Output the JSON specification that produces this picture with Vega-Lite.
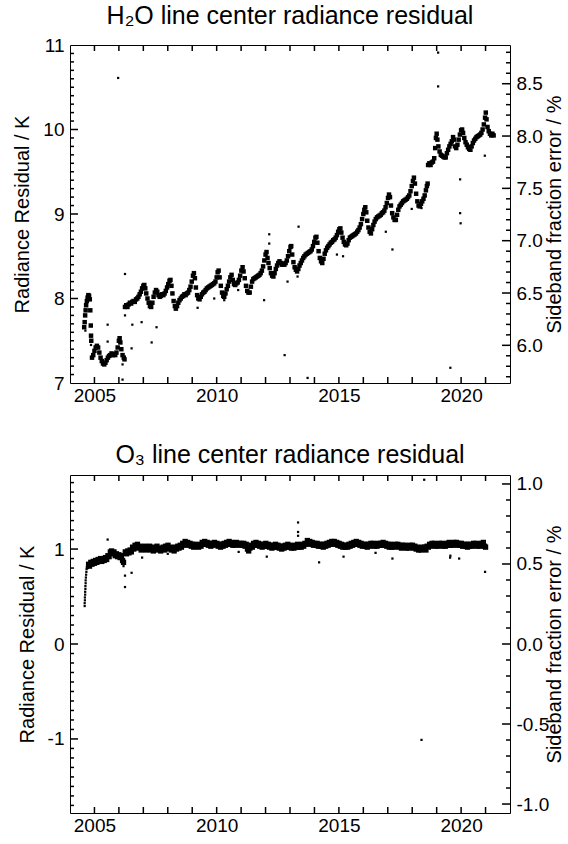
{
"$schema":"https://vega.github.io/schema/vega-lite/v6.json",
"background":"white",
"padding":{"left":12,"top":3,"right":0,"bottom":0},
"spacing":36,
"config":{"view":{"stroke":"black","strokeWidth":1},"font":"Liberation Sans",
"axis":{"labelFont":"Liberation Sans","titleFont":"Liberation Sans","labelFontSize":19,"titleFontSize":20,"titleFontWeight":"normal","labelColor":"black","titleColor":"black","grid":false,"domain":false,"ticks":false,"labelFlush":false,"labelOverlap":false},
"title":{"font":"Liberation Sans","fontSize":25,"fontWeight":"normal","color":"black","anchor":"middle","offset":7}},
"datasets":{
"yb_h2o":[{"v":2005,"e":7},{"v":2006,"e":7},{"v":2007,"e":7},{"v":2008,"e":7},{"v":2009,"e":7},{"v":2010,"e":7},{"v":2011,"e":7},{"v":2012,"e":7},{"v":2013,"e":7},{"v":2014,"e":7},{"v":2015,"e":7},{"v":2016,"e":7},{"v":2017,"e":7},{"v":2018,"e":7},{"v":2019,"e":7},{"v":2020,"e":7},{"v":2021,"e":7}],
"yt_h2o":[{"v":2005,"e":11},{"v":2006,"e":11},{"v":2007,"e":11},{"v":2008,"e":11},{"v":2009,"e":11},{"v":2010,"e":11},{"v":2011,"e":11},{"v":2012,"e":11},{"v":2013,"e":11},{"v":2014,"e":11},{"v":2015,"e":11},{"v":2016,"e":11},{"v":2017,"e":11},{"v":2018,"e":11},{"v":2019,"e":11},{"v":2020,"e":11},{"v":2021,"e":11}],
"yb_o3":[{"v":2005,"e":-1.78},{"v":2006,"e":-1.78},{"v":2007,"e":-1.78},{"v":2008,"e":-1.78},{"v":2009,"e":-1.78},{"v":2010,"e":-1.78},{"v":2011,"e":-1.78},{"v":2012,"e":-1.78},{"v":2013,"e":-1.78},{"v":2014,"e":-1.78},{"v":2015,"e":-1.78},{"v":2016,"e":-1.78},{"v":2017,"e":-1.78},{"v":2018,"e":-1.78},{"v":2019,"e":-1.78},{"v":2020,"e":-1.78},{"v":2021,"e":-1.78}],
"yt_o3":[{"v":2005,"e":1.78},{"v":2006,"e":1.78},{"v":2007,"e":1.78},{"v":2008,"e":1.78},{"v":2009,"e":1.78},{"v":2010,"e":1.78},{"v":2011,"e":1.78},{"v":2012,"e":1.78},{"v":2013,"e":1.78},{"v":2014,"e":1.78},{"v":2015,"e":1.78},{"v":2016,"e":1.78},{"v":2017,"e":1.78},{"v":2018,"e":1.78},{"v":2019,"e":1.78},{"v":2020,"e":1.78},{"v":2021,"e":1.78}],
"h2o_lmaj":[{"v":8,"e":2004},{"v":9,"e":2004},{"v":10,"e":2004}],
"h2o_lmin":[{"v":7.1,"e":2004},{"v":7.2,"e":2004},{"v":7.3,"e":2004},{"v":7.4,"e":2004},{"v":7.5,"e":2004},{"v":7.6,"e":2004},{"v":7.7,"e":2004},{"v":7.8,"e":2004},{"v":7.9,"e":2004},{"v":8.1,"e":2004},{"v":8.2,"e":2004},{"v":8.3,"e":2004},{"v":8.4,"e":2004},{"v":8.5,"e":2004},{"v":8.6,"e":2004},{"v":8.7,"e":2004},{"v":8.8,"e":2004},{"v":8.9,"e":2004},{"v":9.1,"e":2004},{"v":9.2,"e":2004},{"v":9.3,"e":2004},{"v":9.4,"e":2004},{"v":9.5,"e":2004},{"v":9.6,"e":2004},{"v":9.7,"e":2004},{"v":9.8,"e":2004},{"v":9.9,"e":2004},{"v":10.1,"e":2004},{"v":10.2,"e":2004},{"v":10.3,"e":2004},{"v":10.4,"e":2004},{"v":10.5,"e":2004},{"v":10.6,"e":2004},{"v":10.7,"e":2004},{"v":10.8,"e":2004},{"v":10.9,"e":2004}],
"h2o_rmaj":[{"v":6.0,"e":2022},{"v":6.5,"e":2022},{"v":7.0,"e":2022},{"v":7.5,"e":2022},{"v":8.0,"e":2022},{"v":8.5,"e":2022}],
"h2o_rmin":[{"v":5.7,"e":2022},{"v":5.8,"e":2022},{"v":5.9,"e":2022},{"v":6.1,"e":2022},{"v":6.2,"e":2022},{"v":6.3,"e":2022},{"v":6.4,"e":2022},{"v":6.6,"e":2022},{"v":6.7,"e":2022},{"v":6.8,"e":2022},{"v":6.9,"e":2022},{"v":7.1,"e":2022},{"v":7.2,"e":2022},{"v":7.3,"e":2022},{"v":7.4,"e":2022},{"v":7.6,"e":2022},{"v":7.7,"e":2022},{"v":7.8,"e":2022},{"v":7.9,"e":2022},{"v":8.1,"e":2022},{"v":8.2,"e":2022},{"v":8.3,"e":2022},{"v":8.4,"e":2022},{"v":8.6,"e":2022},{"v":8.7,"e":2022},{"v":8.8,"e":2022}],
"o3_lmaj":[{"v":-1,"e":2004},{"v":0,"e":2004},{"v":1,"e":2004}],
"o3_lmin":[{"v":-1.7,"e":2004},{"v":-1.6,"e":2004},{"v":-1.5,"e":2004},{"v":-1.4,"e":2004},{"v":-1.3,"e":2004},{"v":-1.2,"e":2004},{"v":-1.1,"e":2004},{"v":-0.9,"e":2004},{"v":-0.8,"e":2004},{"v":-0.7,"e":2004},{"v":-0.6,"e":2004},{"v":-0.5,"e":2004},{"v":-0.4,"e":2004},{"v":-0.3,"e":2004},{"v":-0.2,"e":2004},{"v":-0.1,"e":2004},{"v":0.1,"e":2004},{"v":0.2,"e":2004},{"v":0.3,"e":2004},{"v":0.4,"e":2004},{"v":0.5,"e":2004},{"v":0.6,"e":2004},{"v":0.7,"e":2004},{"v":0.8,"e":2004},{"v":0.9,"e":2004},{"v":1.1,"e":2004},{"v":1.2,"e":2004},{"v":1.3,"e":2004},{"v":1.4,"e":2004},{"v":1.5,"e":2004},{"v":1.6,"e":2004},{"v":1.7,"e":2004}],
"o3_rmaj":[{"v":-1.0,"e":2022},{"v":-0.5,"e":2022},{"v":0.0,"e":2022},{"v":0.5,"e":2022},{"v":1.0,"e":2022}],
"o3_rmin":[{"v":-0.9,"e":2022},{"v":-0.8,"e":2022},{"v":-0.7,"e":2022},{"v":-0.6,"e":2022},{"v":-0.4,"e":2022},{"v":-0.3,"e":2022},{"v":-0.2,"e":2022},{"v":-0.1,"e":2022},{"v":0.1,"e":2022},{"v":0.2,"e":2022},{"v":0.3,"e":2022},{"v":0.4,"e":2022},{"v":0.6,"e":2022},{"v":0.7,"e":2022},{"v":0.8,"e":2022},{"v":0.9,"e":2022}],
"h2o":[
{"t":2004.58,"k":7.66},{"t":2004.60,"k":7.72},{"t":2004.62,"k":7.80},{"t":2004.64,"k":7.86},{"t":2004.66,"k":7.92},{"t":2004.69,"k":7.97},{"t":2004.72,"k":8.01},{"t":2004.75,"k":8.04},{"t":2004.78,"k":8.03},{"t":2004.81,"k":7.99},{"t":2004.83,"k":7.86},{"t":2004.85,"k":7.68},{"t":2004.86,"k":7.56},{"t":2004.87,"k":7.50},
{"t":2004.90,"k":7.30},{"t":2004.95,"k":7.33},{"t":2005.00,"k":7.38},{"t":2005.05,"k":7.42},{"t":2005.10,"k":7.44},{"t":2005.15,"k":7.42},{"t":2005.20,"k":7.36},{"t":2005.25,"k":7.30},{"t":2005.30,"k":7.26},{"t":2005.35,"k":7.23},{"t":2005.40,"k":7.22},{"t":2005.45,"k":7.24},{"t":2005.50,"k":7.27},{"t":2005.55,"k":7.30},{"t":2005.60,"k":7.32},{"t":2005.65,"k":7.33},{"t":2005.70,"k":7.35},{"t":2005.75,"k":7.33},{"t":2005.80,"k":7.34},{"t":2005.85,"k":7.33},{"t":2005.90,"k":7.36},{"t":2005.95,"k":7.42},{"t":2006.00,"k":7.50},{"t":2006.03,"k":7.53},{"t":2006.06,"k":7.48},{"t":2006.10,"k":7.40},{"t":2006.15,"k":7.33},{"t":2006.20,"k":7.30},{"t":2006.23,"k":7.28},
{"t":2006.25,"k":7.90},{"t":2006.30,"k":7.92},{"t":2006.35,"k":7.90},{"t":2006.40,"k":7.93},{"t":2006.45,"k":7.95},{"t":2006.50,"k":7.94},{"t":2006.55,"k":7.96},{"t":2006.60,"k":7.97},{"t":2006.65,"k":7.96},{"t":2006.70,"k":7.99},{"t":2006.75,"k":8.00},{"t":2006.80,"k":8.02},{"t":2006.85,"k":8.05},{"t":2006.90,"k":8.08},{"t":2006.95,"k":8.12},{"t":2007.00,"k":8.15},{"t":2007.04,"k":8.16},{"t":2007.08,"k":8.12},{"t":2007.12,"k":8.06},{"t":2007.17,"k":8.00},{"t":2007.22,"k":7.95},{"t":2007.27,"k":7.91},{"t":2007.32,"k":7.90},{"t":2007.37,"k":7.95},{"t":2007.42,"k":8.02},{"t":2007.47,"k":8.07},{"t":2007.52,"k":8.10},{"t":2007.57,"k":8.08},{"t":2007.62,"k":8.04},{"t":2007.67,"k":8.02},{"t":2007.72,"k":8.03},{"t":2007.77,"k":8.05},{"t":2007.82,"k":8.04},{"t":2007.87,"k":8.06},{"t":2007.92,"k":8.09},{"t":2007.97,"k":8.13},{"t":2008.02,"k":8.17},{"t":2008.07,"k":8.21},{"t":2008.11,"k":8.22},{"t":2008.15,"k":8.15},{"t":2008.19,"k":8.06},{"t":2008.24,"k":7.97},{"t":2008.29,"k":7.91},{"t":2008.33,"k":7.88},{"t":2008.38,"k":7.91},{"t":2008.43,"k":7.95},{"t":2008.48,"k":7.98},{"t":2008.53,"k":8.00},{"t":2008.58,"k":8.02},{"t":2008.63,"k":8.03},{"t":2008.68,"k":8.05},{"t":2008.73,"k":8.04},{"t":2008.78,"k":8.06},{"t":2008.83,"k":8.07},{"t":2008.88,"k":8.10},{"t":2008.93,"k":8.14},{"t":2008.98,"k":8.20},{"t":2009.03,"k":8.27},{"t":2009.07,"k":8.30},{"t":2009.11,"k":8.24},{"t":2009.15,"k":8.13},{"t":2009.20,"k":8.04},{"t":2009.25,"k":8.00},{"t":2009.30,"k":7.99},{"t":2009.35,"k":8.02},{"t":2009.40,"k":8.05},{"t":2009.45,"k":8.07},{"t":2009.50,"k":8.08},{"t":2009.55,"k":8.10},{"t":2009.60,"k":8.12},{"t":2009.65,"k":8.13},{"t":2009.70,"k":8.14},{"t":2009.75,"k":8.15},{"t":2009.80,"k":8.16},{"t":2009.85,"k":8.17},{"t":2009.90,"k":8.18},{"t":2009.95,"k":8.20},{"t":2010.00,"k":8.25},{"t":2010.04,"k":8.31},{"t":2010.08,"k":8.33},{"t":2010.12,"k":8.25},{"t":2010.17,"k":8.15},{"t":2010.22,"k":8.07},{"t":2010.27,"k":8.03},{"t":2010.31,"k":8.02},{"t":2010.36,"k":8.06},{"t":2010.41,"k":8.11},{"t":2010.46,"k":8.15},{"t":2010.51,"k":8.20},{"t":2010.56,"k":8.25},{"t":2010.61,"k":8.28},{"t":2010.66,"k":8.22},{"t":2010.71,"k":8.17},{"t":2010.76,"k":8.16},{"t":2010.81,"k":8.18},{"t":2010.86,"k":8.19},{"t":2010.91,"k":8.22},{"t":2010.96,"k":8.27},{"t":2011.01,"k":8.33},{"t":2011.06,"k":8.37},{"t":2011.10,"k":8.32},{"t":2011.15,"k":8.24},{"t":2011.20,"k":8.15},{"t":2011.25,"k":8.09},{"t":2011.30,"k":8.07},{"t":2011.35,"k":8.07},{"t":2011.40,"k":8.14},{"t":2011.45,"k":8.20},{"t":2011.50,"k":8.23},{"t":2011.55,"k":8.24},{"t":2011.60,"k":8.25},{"t":2011.65,"k":8.26},{"t":2011.70,"k":8.27},{"t":2011.75,"k":8.28},{"t":2011.80,"k":8.30},{"t":2011.85,"k":8.33},{"t":2011.90,"k":8.38},{"t":2011.95,"k":8.45},{"t":2012.00,"k":8.52},{"t":2012.04,"k":8.55},{"t":2012.08,"k":8.48},{"t":2012.12,"k":8.42},{"t":2012.17,"k":8.36},{"t":2012.22,"k":8.30},{"t":2012.27,"k":8.27},{"t":2012.32,"k":8.26},{"t":2012.37,"k":8.30},{"t":2012.42,"k":8.35},{"t":2012.47,"k":8.39},{"t":2012.52,"k":8.42},{"t":2012.57,"k":8.44},{"t":2012.62,"k":8.42},{"t":2012.67,"k":8.40},{"t":2012.72,"k":8.41},{"t":2012.77,"k":8.40},{"t":2012.82,"k":8.42},{"t":2012.87,"k":8.45},{"t":2012.92,"k":8.50},{"t":2012.97,"k":8.56},{"t":2013.02,"k":8.61},{"t":2013.05,"k":8.62},{"t":2013.09,"k":8.52},{"t":2013.14,"k":8.43},{"t":2013.19,"k":8.37},{"t":2013.24,"k":8.34},{"t":2013.29,"k":8.32},{"t":2013.34,"k":8.35},{"t":2013.39,"k":8.39},{"t":2013.44,"k":8.42},{"t":2013.49,"k":8.45},{"t":2013.54,"k":8.48},{"t":2013.59,"k":8.50},{"t":2013.64,"k":8.52},{"t":2013.69,"k":8.53},{"t":2013.74,"k":8.54},{"t":2013.79,"k":8.55},{"t":2013.84,"k":8.56},{"t":2013.89,"k":8.58},{"t":2013.94,"k":8.62},{"t":2013.99,"k":8.67},{"t":2014.04,"k":8.72},{"t":2014.08,"k":8.73},{"t":2014.12,"k":8.66},{"t":2014.17,"k":8.56},{"t":2014.22,"k":8.48},{"t":2014.27,"k":8.44},{"t":2014.32,"k":8.42},{"t":2014.37,"k":8.47},{"t":2014.42,"k":8.53},{"t":2014.47,"k":8.57},{"t":2014.52,"k":8.60},{"t":2014.57,"k":8.62},{"t":2014.62,"k":8.64},{"t":2014.67,"k":8.66},{"t":2014.72,"k":8.67},{"t":2014.77,"k":8.69},{"t":2014.82,"k":8.70},{"t":2014.87,"k":8.72},{"t":2014.92,"k":8.75},{"t":2014.97,"k":8.79},{"t":2015.02,"k":8.82},{"t":2015.06,"k":8.83},{"t":2015.10,"k":8.78},{"t":2015.15,"k":8.72},{"t":2015.20,"k":8.67},{"t":2015.25,"k":8.64},{"t":2015.30,"k":8.63},{"t":2015.35,"k":8.65},{"t":2015.40,"k":8.69},{"t":2015.45,"k":8.72},{"t":2015.50,"k":8.73},{"t":2015.55,"k":8.74},{"t":2015.60,"k":8.75},{"t":2015.65,"k":8.76},{"t":2015.70,"k":8.77},{"t":2015.75,"k":8.79},{"t":2015.80,"k":8.81},{"t":2015.85,"k":8.84},{"t":2015.90,"k":8.88},{"t":2015.95,"k":8.94},{"t":2016.00,"k":9.00},{"t":2016.04,"k":9.05},{"t":2016.08,"k":9.08},{"t":2016.12,"k":9.02},{"t":2016.16,"k":8.92},{"t":2016.21,"k":8.84},{"t":2016.26,"k":8.79},{"t":2016.31,"k":8.77},{"t":2016.36,"k":8.82},{"t":2016.41,"k":8.87},{"t":2016.46,"k":8.91},{"t":2016.51,"k":8.94},{"t":2016.56,"k":8.96},{"t":2016.61,"k":8.97},{"t":2016.66,"k":8.98},{"t":2016.71,"k":8.99},{"t":2016.76,"k":9.01},{"t":2016.81,"k":9.02},{"t":2016.86,"k":9.04},{"t":2016.91,"k":9.08},{"t":2016.96,"k":9.13},{"t":2017.01,"k":9.19},{"t":2017.05,"k":9.23},{"t":2017.09,"k":9.20},{"t":2017.13,"k":9.10},{"t":2017.18,"k":9.01},{"t":2017.23,"k":8.96},{"t":2017.28,"k":8.93},{"t":2017.33,"k":8.93},{"t":2017.38,"k":8.99},{"t":2017.43,"k":9.05},{"t":2017.48,"k":9.09},{"t":2017.53,"k":9.11},{"t":2017.58,"k":9.13},{"t":2017.63,"k":9.15},{"t":2017.68,"k":9.16},{"t":2017.73,"k":9.17},{"t":2017.78,"k":9.18},{"t":2017.83,"k":9.20},{"t":2017.88,"k":9.22},{"t":2017.93,"k":9.27},{"t":2017.98,"k":9.33},{"t":2018.03,"k":9.39},{"t":2018.07,"k":9.43},{"t":2018.11,"k":9.36},{"t":2018.16,"k":9.24},{"t":2018.21,"k":9.15},{"t":2018.26,"k":9.10},{"t":2018.31,"k":9.09},{"t":2018.36,"k":9.12},{"t":2018.41,"k":9.15},{"t":2018.46,"k":9.18},{"t":2018.51,"k":9.22},{"t":2018.56,"k":9.28},{"t":2018.60,"k":9.33},{"t":2018.63,"k":9.36},
{"t":2018.65,"k":9.58},{"t":2018.70,"k":9.60},{"t":2018.75,"k":9.58},{"t":2018.80,"k":9.61},{"t":2018.85,"k":9.62},{"t":2018.90,"k":9.66},{"t":2018.94,"k":9.78},{"t":2018.97,"k":9.90},{"t":2019.00,"k":9.95},{"t":2019.03,"k":9.88},{"t":2019.07,"k":9.80},{"t":2019.12,"k":9.74},{"t":2019.17,"k":9.70},{"t":2019.22,"k":9.69},{"t":2019.27,"k":9.68},{"t":2019.32,"k":9.67},{"t":2019.37,"k":9.67},{"t":2019.42,"k":9.72},{"t":2019.47,"k":9.76},{"t":2019.52,"k":9.80},{"t":2019.57,"k":9.83},{"t":2019.62,"k":9.86},{"t":2019.67,"k":9.91},{"t":2019.71,"k":9.88},{"t":2019.75,"k":9.80},{"t":2019.80,"k":9.78},{"t":2019.85,"k":9.82},{"t":2019.90,"k":9.88},{"t":2019.95,"k":9.94},{"t":2020.00,"k":9.99},{"t":2020.04,"k":10.00},{"t":2020.08,"k":9.96},{"t":2020.13,"k":9.90},{"t":2020.18,"k":9.85},{"t":2020.23,"k":9.82},{"t":2020.28,"k":9.79},{"t":2020.33,"k":9.77},{"t":2020.38,"k":9.76},{"t":2020.43,"k":9.80},{"t":2020.48,"k":9.84},{"t":2020.53,"k":9.87},{"t":2020.58,"k":9.89},{"t":2020.63,"k":9.91},{"t":2020.68,"k":9.92},{"t":2020.73,"k":9.93},{"t":2020.78,"k":9.94},{"t":2020.83,"k":9.96},{"t":2020.88,"k":10.00},{"t":2020.93,"k":10.06},{"t":2020.98,"k":10.14},{"t":2021.01,"k":10.20},{"t":2021.04,"k":10.12},{"t":2021.08,"k":10.03},{"t":2021.13,"k":9.98},{"t":2021.18,"k":9.95},{"t":2021.23,"k":9.93},{"t":2021.28,"k":9.95},{"t":2021.33,"k":9.93}
],
"h2o_out":[
{"t":2005.97,"k":10.61},{"t":2006.25,"k":8.29},{"t":2006.25,"k":7.80},{"t":2006.55,"k":7.69},{"t":2006.93,"k":7.72},{"t":2007.54,"k":7.66},{"t":2007.34,"k":7.48},{"t":2006.52,"k":7.41},{"t":2005.54,"k":7.69},{"t":2005.54,"k":7.49},{"t":2006.15,"k":7.22},{"t":2006.15,"k":7.04},{"t":2009.22,"k":7.89},{"t":2009.90,"k":8.00},{"t":2010.31,"k":7.98},{"t":2010.88,"k":8.10},{"t":2011.94,"k":7.98},{"t":2012.15,"k":8.76},{"t":2012.15,"k":8.65},{"t":2012.90,"k":8.20},{"t":2013.31,"k":8.26},{"t":2013.35,"k":8.85},{"t":2012.78,"k":7.33},{"t":2013.72,"k":7.06},{"t":2014.92,"k":8.52},{"t":2015.17,"k":8.50},{"t":2016.92,"k":8.79},{"t":2017.19,"k":8.58},{"t":2017.98,"k":9.06},{"t":2018.38,"k":9.07},{"t":2019.06,"k":10.91},{"t":2019.06,"k":10.51},{"t":2019.96,"k":9.41},{"t":2019.96,"k":9.01},{"t":2019.98,"k":8.89},{"t":2019.56,"k":7.18},{"t":2020.97,"k":9.69},{"t":2004.63,"k":7.62},{"t":2004.86,"k":7.45}
],
"o3":[
{"t":2004.76,"k":0.84},
{"t":2004.80,"k":0.82},{"t":2004.85,"k":0.86},{"t":2004.90,"k":0.84},{"t":2004.95,"k":0.87},{"t":2005.00,"k":0.85},{"t":2005.05,"k":0.88},{"t":2005.10,"k":0.86},{"t":2005.15,"k":0.89},{"t":2005.20,"k":0.87},{"t":2005.25,"k":0.90},{"t":2005.30,"k":0.87},{"t":2005.35,"k":0.89},{"t":2005.40,"k":0.88},{"t":2005.45,"k":0.91},{"t":2005.50,"k":0.89},{"t":2005.55,"k":0.93},{"t":2005.60,"k":0.92},{"t":2005.65,"k":0.97},{"t":2005.70,"k":0.98},{"t":2005.75,"k":0.95},{"t":2005.80,"k":0.97},{"t":2005.85,"k":0.93},{"t":2005.90,"k":0.95},{"t":2005.95,"k":0.92},{"t":2006.00,"k":0.94},{"t":2006.05,"k":0.91},{"t":2006.10,"k":0.93},{"t":2006.15,"k":0.88},{"t":2006.19,"k":0.86},
{"t":2006.26,"k":0.97},{"t":2006.31,"k":0.95},{"t":2006.36,"k":0.98},{"t":2006.41,"k":0.96},{"t":2006.46,"k":0.99},{"t":2006.51,"k":0.97},{"t":2006.56,"k":1.02},{"t":2006.61,"k":1.00},{"t":2006.66,"k":1.04},{"t":2006.71,"k":1.02},{"t":2006.76,"k":1.05},{"t":2006.81,"k":1.01},{"t":2006.86,"k":1.03},{"t":2006.91,"k":0.99},{"t":2006.96,"k":1.02},{"t":2007.01,"k":1.00},{"t":2007.06,"k":1.03},{"t":2007.11,"k":0.99},{"t":2007.16,"k":1.02},{"t":2007.21,"k":1.00},{"t":2007.26,"k":1.03},{"t":2007.31,"k":0.99},{"t":2007.36,"k":1.01},{"t":2007.41,"k":0.98},{"t":2007.46,"k":1.02},{"t":2007.51,"k":1.00},{"t":2007.56,"k":1.03},{"t":2007.61,"k":0.99},{"t":2007.66,"k":1.01},{"t":2007.71,"k":0.98},{"t":2007.76,"k":1.00},{"t":2007.81,"k":1.02},{"t":2007.86,"k":0.99},{"t":2007.91,"k":1.03},{"t":2007.96,"k":1.01},{"t":2008.01,"k":1.04},{"t":2008.06,"k":1.00},{"t":2008.11,"k":1.02},{"t":2008.16,"k":0.99},{"t":2008.21,"k":1.01},{"t":2008.26,"k":0.98},{"t":2008.31,"k":1.02},{"t":2008.36,"k":1.00},{"t":2008.41,"k":1.03},{"t":2008.46,"k":1.01},{"t":2008.51,"k":1.04},{"t":2008.56,"k":1.02},{"t":2008.61,"k":1.06},{"t":2008.66,"k":1.04},{"t":2008.71,"k":1.08},{"t":2008.76,"k":1.05},{"t":2008.81,"k":1.07},{"t":2008.86,"k":1.04},{"t":2008.91,"k":1.06},{"t":2008.96,"k":1.03},{"t":2009.01,"k":1.05},{"t":2009.06,"k":1.02},{"t":2009.11,"k":1.05},{"t":2009.16,"k":1.03},{"t":2009.21,"k":1.04},{"t":2009.26,"k":1.02},{"t":2009.31,"k":1.05},{"t":2009.36,"k":1.03},{"t":2009.41,"k":1.07},{"t":2009.46,"k":1.05},{"t":2009.51,"k":1.08},{"t":2009.56,"k":1.05},{"t":2009.61,"k":1.07},{"t":2009.66,"k":1.04},{"t":2009.71,"k":1.06},{"t":2009.76,"k":1.03},{"t":2009.81,"k":1.06},{"t":2009.86,"k":1.04},{"t":2009.91,"k":1.07},{"t":2009.96,"k":1.05},{"t":2010.01,"k":1.06},{"t":2010.06,"k":1.03},{"t":2010.11,"k":1.05},{"t":2010.16,"k":1.02},{"t":2010.21,"k":1.05},{"t":2010.26,"k":1.03},{"t":2010.31,"k":1.06},{"t":2010.36,"k":1.04},{"t":2010.41,"k":1.07},{"t":2010.46,"k":1.05},{"t":2010.51,"k":1.08},{"t":2010.56,"k":1.05},{"t":2010.61,"k":1.07},{"t":2010.66,"k":1.04},{"t":2010.71,"k":1.06},{"t":2010.76,"k":1.04},{"t":2010.81,"k":1.07},{"t":2010.86,"k":1.05},{"t":2010.91,"k":1.06},{"t":2010.96,"k":1.04},{"t":2011.01,"k":1.06},{"t":2011.06,"k":1.04},{"t":2011.11,"k":1.06},{"t":2011.16,"k":1.03},{"t":2011.21,"k":1.05},{"t":2011.26,"k":1.00},{"t":2011.31,"k":0.98},{"t":2011.36,"k":1.01},{"t":2011.41,"k":1.04},{"t":2011.46,"k":1.02},{"t":2011.51,"k":1.06},{"t":2011.56,"k":1.04},{"t":2011.61,"k":1.07},{"t":2011.66,"k":1.04},{"t":2011.71,"k":1.06},{"t":2011.76,"k":1.03},{"t":2011.81,"k":1.05},{"t":2011.86,"k":1.02},{"t":2011.91,"k":1.05},{"t":2011.96,"k":1.03},{"t":2012.01,"k":1.06},{"t":2012.06,"k":1.03},{"t":2012.11,"k":1.05},{"t":2012.16,"k":1.02},{"t":2012.21,"k":1.04},{"t":2012.26,"k":1.01},{"t":2012.31,"k":1.04},{"t":2012.36,"k":1.02},{"t":2012.41,"k":1.05},{"t":2012.46,"k":1.02},{"t":2012.51,"k":1.04},{"t":2012.56,"k":1.01},{"t":2012.61,"k":1.03},{"t":2012.66,"k":1.00},{"t":2012.71,"k":1.03},{"t":2012.76,"k":1.01},{"t":2012.81,"k":1.04},{"t":2012.86,"k":1.02},{"t":2012.91,"k":1.05},{"t":2012.96,"k":1.02},{"t":2013.01,"k":1.04},{"t":2013.06,"k":1.01},{"t":2013.11,"k":1.03},{"t":2013.16,"k":1.01},{"t":2013.21,"k":1.04},{"t":2013.26,"k":1.02},{"t":2013.31,"k":1.05},{"t":2013.36,"k":1.02},{"t":2013.41,"k":1.04},{"t":2013.46,"k":1.02},{"t":2013.51,"k":1.05},{"t":2013.56,"k":1.03},{"t":2013.61,"k":1.06},{"t":2013.66,"k":1.05},{"t":2013.71,"k":1.09},{"t":2013.76,"k":1.06},{"t":2013.81,"k":1.08},{"t":2013.86,"k":1.05},{"t":2013.91,"k":1.07},{"t":2013.96,"k":1.04},{"t":2014.01,"k":1.06},{"t":2014.06,"k":1.04},{"t":2014.11,"k":1.06},{"t":2014.16,"k":1.03},{"t":2014.21,"k":1.05},{"t":2014.26,"k":1.03},{"t":2014.31,"k":1.05},{"t":2014.36,"k":1.02},{"t":2014.41,"k":1.05},{"t":2014.46,"k":1.03},{"t":2014.51,"k":1.06},{"t":2014.56,"k":1.04},{"t":2014.61,"k":1.07},{"t":2014.66,"k":1.05},{"t":2014.71,"k":1.08},{"t":2014.76,"k":1.06},{"t":2014.81,"k":1.08},{"t":2014.86,"k":1.05},{"t":2014.91,"k":1.07},{"t":2014.96,"k":1.04},{"t":2015.01,"k":1.06},{"t":2015.06,"k":1.03},{"t":2015.11,"k":1.05},{"t":2015.16,"k":1.02},{"t":2015.21,"k":1.04},{"t":2015.26,"k":1.02},{"t":2015.31,"k":1.04},{"t":2015.36,"k":1.02},{"t":2015.41,"k":1.05},{"t":2015.46,"k":1.03},{"t":2015.51,"k":1.06},{"t":2015.56,"k":1.04},{"t":2015.61,"k":1.07},{"t":2015.66,"k":1.05},{"t":2015.71,"k":1.08},{"t":2015.76,"k":1.05},{"t":2015.81,"k":1.07},{"t":2015.86,"k":1.04},{"t":2015.91,"k":1.06},{"t":2015.96,"k":1.03},{"t":2016.01,"k":1.05},{"t":2016.06,"k":1.03},{"t":2016.11,"k":1.05},{"t":2016.16,"k":1.02},{"t":2016.21,"k":1.05},{"t":2016.26,"k":1.03},{"t":2016.31,"k":1.06},{"t":2016.36,"k":1.04},{"t":2016.41,"k":1.06},{"t":2016.46,"k":1.03},{"t":2016.51,"k":1.05},{"t":2016.56,"k":1.03},{"t":2016.61,"k":1.06},{"t":2016.66,"k":1.04},{"t":2016.71,"k":1.06},{"t":2016.76,"k":1.04},{"t":2016.81,"k":1.07},{"t":2016.86,"k":1.04},{"t":2016.91,"k":1.06},{"t":2016.96,"k":1.03},{"t":2017.01,"k":1.05},{"t":2017.06,"k":1.02},{"t":2017.11,"k":1.05},{"t":2017.16,"k":1.02},{"t":2017.21,"k":1.04},{"t":2017.26,"k":1.02},{"t":2017.31,"k":1.05},{"t":2017.36,"k":1.03},{"t":2017.41,"k":1.05},{"t":2017.46,"k":1.02},{"t":2017.51,"k":1.04},{"t":2017.56,"k":1.01},{"t":2017.61,"k":1.04},{"t":2017.66,"k":1.02},{"t":2017.71,"k":1.04},{"t":2017.76,"k":1.01},{"t":2017.81,"k":1.03},{"t":2017.86,"k":1.01},{"t":2017.91,"k":1.04},{"t":2017.96,"k":1.02},{"t":2018.01,"k":1.04},{"t":2018.06,"k":1.01},{"t":2018.11,"k":1.03},{"t":2018.16,"k":1.00},{"t":2018.21,"k":1.02},{"t":2018.26,"k":0.99},{"t":2018.31,"k":1.01},{"t":2018.36,"k":0.99},{"t":2018.41,"k":1.02},{"t":2018.46,"k":1.00},{"t":2018.51,"k":1.02},{"t":2018.56,"k":0.99},{"t":2018.61,"k":1.03},{"t":2018.66,"k":1.02},{"t":2018.71,"k":1.05},{"t":2018.76,"k":1.03},{"t":2018.81,"k":1.06},{"t":2018.86,"k":1.04},{"t":2018.91,"k":1.06},{"t":2018.96,"k":1.03},{"t":2019.01,"k":1.05},{"t":2019.06,"k":1.03},{"t":2019.11,"k":1.06},{"t":2019.16,"k":1.04},{"t":2019.21,"k":1.06},{"t":2019.26,"k":1.03},{"t":2019.31,"k":1.05},{"t":2019.36,"k":1.03},{"t":2019.41,"k":1.06},{"t":2019.46,"k":1.04},{"t":2019.51,"k":1.07},{"t":2019.56,"k":1.04},{"t":2019.61,"k":1.06},{"t":2019.66,"k":1.04},{"t":2019.71,"k":1.07},{"t":2019.76,"k":1.05},{"t":2019.81,"k":1.07},{"t":2019.86,"k":1.04},{"t":2019.91,"k":1.06},{"t":2019.96,"k":1.04},{"t":2020.01,"k":1.06},{"t":2020.06,"k":1.03},{"t":2020.11,"k":1.05},{"t":2020.16,"k":1.03},{"t":2020.21,"k":1.05},{"t":2020.26,"k":1.02},{"t":2020.31,"k":1.05},{"t":2020.36,"k":1.03},{"t":2020.41,"k":1.05},{"t":2020.46,"k":1.03},{"t":2020.51,"k":1.06},{"t":2020.56,"k":1.04},{"t":2020.61,"k":1.06},{"t":2020.66,"k":1.03},{"t":2020.71,"k":1.05},{"t":2020.76,"k":1.03},{"t":2020.81,"k":1.06},{"t":2020.86,"k":1.04},{"t":2020.91,"k":1.07},{"t":2020.96,"k":1.03},{"t":2021.00,"k":1.02}
],
"o3_out":[
{"t":2004.60,"k":0.40},{"t":2004.60,"k":0.43},{"t":2004.61,"k":0.46},{"t":2004.61,"k":0.49},{"t":2004.62,"k":0.52},{"t":2004.62,"k":0.55},{"t":2004.63,"k":0.58},{"t":2004.63,"k":0.61},{"t":2004.64,"k":0.64},{"t":2004.64,"k":0.67},{"t":2004.65,"k":0.70},{"t":2004.66,"k":0.73},{"t":2004.67,"k":0.76},{"t":2004.68,"k":0.79},{"t":2004.69,"k":0.81},{"t":2004.71,"k":0.83},{"t":2004.73,"k":0.80},
{"t":2005.54,"k":1.10},{"t":2006.19,"k":0.82},{"t":2006.25,"k":0.72},{"t":2006.25,"k":0.60},{"t":2006.52,"k":0.75},{"t":2006.95,"k":0.91},{"t":2012.05,"k":0.92},{"t":2013.33,"k":1.28},{"t":2013.33,"k":1.18},{"t":2013.33,"k":1.14},{"t":2014.19,"k":0.86},{"t":2015.19,"k":0.92},{"t":2017.19,"k":0.90},{"t":2018.38,"k":-1.01},{"t":2018.49,"k":1.73},{"t":2019.55,"k":0.91},{"t":2019.56,"k":0.93},{"t":2019.92,"k":0.90},{"t":2020.98,"k":0.76},{"t":2008.00,"k":0.95},{"t":2010.90,"k":0.97},{"t":2016.50,"k":0.96}
]},
"vconcat":[
{"width":440,"height":338,
"title":{"text":"H₂O line center radiance residual"},
"layer":[
{"data":{"name":"h2o"},"mark":{"type":"square","size":20,"color":"black","opacity":1},
"encoding":{
"x":{"field":"t","type":"quantitative","scale":{"domain":[2004,2022],"nice":false,"zero":false},"axis":{"orient":"bottom","values":[2005,2010,2015,2020],"format":"d","labelPadding":3,"title":null}},
"y":{"field":"k","type":"quantitative","scale":{"domain":[7,11],"nice":false,"zero":false},"axis":{"orient":"left","values":[7,8,9,10,11],"format":"d","labelPadding":6,"title":"Radiance Residual / K","titlePadding":10}}}},
{"data":{"name":"h2o_out"},"mark":{"type":"square","size":5,"color":"black","opacity":1},
"encoding":{
"x":{"field":"t","type":"quantitative","scale":{"domain":[2004,2022],"nice":false,"zero":false},"axis":null},
"y":{"field":"k","type":"quantitative","scale":{"domain":[7,11],"nice":false,"zero":false},"axis":null}}},
{"data":{"name":"h2o_lmaj"},"mark":{"type":"point","shape":"M0,-0.19H2V0.19H0Z","size":64,"filled":true,"color":"black","opacity":1,"strokeWidth":0},
"encoding":{
"x":{"field":"e","type":"quantitative","scale":{"domain":[2004,2022],"nice":false,"zero":false},"axis":null},
"y":{"field":"v","type":"quantitative","scale":{"domain":[7,11],"nice":false,"zero":false},"axis":null}}},
{"data":{"name":"h2o_lmin"},"mark":{"type":"point","shape":"M0,-0.375H2V0.375H0Z","size":16,"filled":true,"color":"black","opacity":1,"strokeWidth":0},
"encoding":{
"x":{"field":"e","type":"quantitative","scale":{"domain":[2004,2022],"nice":false,"zero":false},"axis":null},
"y":{"field":"v","type":"quantitative","scale":{"domain":[7,11],"nice":false,"zero":false},"axis":null}}},
{"data":{"name":"h2o_rmaj"},"mark":{"type":"point","shape":"M0,-0.19H-2V0.19H0Z","size":64,"filled":true,"color":"black","opacity":1,"strokeWidth":0},
"encoding":{
"x":{"field":"e","type":"quantitative","scale":{"domain":[2004,2022],"nice":false,"zero":false},"axis":null},
"y":{"field":"v","type":"quantitative","scale":{"domain":[5.64,8.87],"nice":false,"zero":false},"axis":{"orient":"right","values":[6.0,6.5,7.0,7.5,8.0,8.5],"format":".1f","labelPadding":6,"title":"Sideband fraction error / %","titleAngle":270,"titleX":44,"titleY":169,"titleAlign":"center","titleBaseline":"middle"}}}},
{"data":{"name":"h2o_rmin"},"mark":{"type":"point","shape":"M0,-0.375H-2V0.375H0Z","size":16,"filled":true,"color":"black","opacity":1,"strokeWidth":0},
"encoding":{
"x":{"field":"e","type":"quantitative","scale":{"domain":[2004,2022],"nice":false,"zero":false},"axis":null},
"y":{"field":"v","type":"quantitative","scale":{"domain":[5.64,8.87],"nice":false,"zero":false},"axis":null}}},
{"data":{"name":"yb_h2o"},"mark":{"type":"point","shape":"M-0.25,0V-2H0.25V0Z","size":36,"filled":true,"color":"black","opacity":1,"strokeWidth":0},
"encoding":{
"x":{"field":"v","type":"quantitative","scale":{"domain":[2004,2022],"nice":false,"zero":false},"axis":null},
"y":{"field":"e","type":"quantitative","scale":{"domain":[7,11],"nice":false,"zero":false},"axis":null}}},
{"data":{"name":"yt_h2o"},"mark":{"type":"point","shape":"M-0.25,0V2H0.25V0Z","size":36,"filled":true,"color":"black","opacity":1,"strokeWidth":0},
"encoding":{
"x":{"field":"v","type":"quantitative","scale":{"domain":[2004,2022],"nice":false,"zero":false},"axis":null},
"y":{"field":"e","type":"quantitative","scale":{"domain":[7,11],"nice":false,"zero":false},"axis":null}}}
],
"resolve":{"scale":{"x":"independent","y":"independent"},"axis":{"x":"independent","y":"independent"}}},
{"width":440,"height":338,
"title":{"text":"O₃ line center radiance residual"},
"layer":[
{"data":{"name":"o3"},"mark":{"type":"square","size":28,"color":"black","opacity":1},
"encoding":{
"x":{"field":"t","type":"quantitative","scale":{"domain":[2004,2022],"nice":false,"zero":false},"axis":{"orient":"bottom","values":[2005,2010,2015,2020],"format":"d","labelPadding":3,"title":null}},
"y":{"field":"k","type":"quantitative","scale":{"domain":[-1.78,1.78],"nice":false,"zero":false},"axis":{"orient":"left","values":[-1,0,1],"labelExpr":"datum.value < 0 ? '-' + format(-datum.value,'d') : format(datum.value,'d')","labelPadding":6,"title":"Radiance Residual / K","titlePadding":10}}}},
{"data":{"name":"o3_out"},"mark":{"type":"square","size":5,"color":"black","opacity":1},
"encoding":{
"x":{"field":"t","type":"quantitative","scale":{"domain":[2004,2022],"nice":false,"zero":false},"axis":null},
"y":{"field":"k","type":"quantitative","scale":{"domain":[-1.78,1.78],"nice":false,"zero":false},"axis":null}}},
{"data":{"name":"o3_lmaj"},"mark":{"type":"point","shape":"M0,-0.19H2V0.19H0Z","size":64,"filled":true,"color":"black","opacity":1,"strokeWidth":0},
"encoding":{
"x":{"field":"e","type":"quantitative","scale":{"domain":[2004,2022],"nice":false,"zero":false},"axis":null},
"y":{"field":"v","type":"quantitative","scale":{"domain":[-1.78,1.78],"nice":false,"zero":false},"axis":null}}},
{"data":{"name":"o3_lmin"},"mark":{"type":"point","shape":"M0,-0.375H2V0.375H0Z","size":16,"filled":true,"color":"black","opacity":1,"strokeWidth":0},
"encoding":{
"x":{"field":"e","type":"quantitative","scale":{"domain":[2004,2022],"nice":false,"zero":false},"axis":null},
"y":{"field":"v","type":"quantitative","scale":{"domain":[-1.78,1.78],"nice":false,"zero":false},"axis":null}}},
{"data":{"name":"o3_rmaj"},"mark":{"type":"point","shape":"M0,-0.19H-2V0.19H0Z","size":64,"filled":true,"color":"black","opacity":1,"strokeWidth":0},
"encoding":{
"x":{"field":"e","type":"quantitative","scale":{"domain":[2004,2022],"nice":false,"zero":false},"axis":null},
"y":{"field":"v","type":"quantitative","scale":{"domain":[-1.056,1.056],"nice":false,"zero":false},"axis":{"orient":"right","values":[-1.0,-0.5,0.0,0.5,1.0],"labelExpr":"datum.value < 0 ? '-' + format(-datum.value,'.1f') : format(datum.value,'.1f')","labelPadding":6,"title":"Sideband fraction error / %","titleAngle":270,"titleX":44,"titleY":169,"titleAlign":"center","titleBaseline":"middle"}}}},
{"data":{"name":"o3_rmin"},"mark":{"type":"point","shape":"M0,-0.375H-2V0.375H0Z","size":16,"filled":true,"color":"black","opacity":1,"strokeWidth":0},
"encoding":{
"x":{"field":"e","type":"quantitative","scale":{"domain":[2004,2022],"nice":false,"zero":false},"axis":null},
"y":{"field":"v","type":"quantitative","scale":{"domain":[-1.056,1.056],"nice":false,"zero":false},"axis":null}}},
{"data":{"name":"yb_o3"},"mark":{"type":"point","shape":"M-0.25,0V-2H0.25V0Z","size":36,"filled":true,"color":"black","opacity":1,"strokeWidth":0},
"encoding":{
"x":{"field":"v","type":"quantitative","scale":{"domain":[2004,2022],"nice":false,"zero":false},"axis":null},
"y":{"field":"e","type":"quantitative","scale":{"domain":[-1.78,1.78],"nice":false,"zero":false},"axis":null}}},
{"data":{"name":"yt_o3"},"mark":{"type":"point","shape":"M-0.25,0V2H0.25V0Z","size":36,"filled":true,"color":"black","opacity":1,"strokeWidth":0},
"encoding":{
"x":{"field":"v","type":"quantitative","scale":{"domain":[2004,2022],"nice":false,"zero":false},"axis":null},
"y":{"field":"e","type":"quantitative","scale":{"domain":[-1.78,1.78],"nice":false,"zero":false},"axis":null}}}
],
"resolve":{"scale":{"x":"independent","y":"independent"},"axis":{"x":"independent","y":"independent"}}}
]
}
